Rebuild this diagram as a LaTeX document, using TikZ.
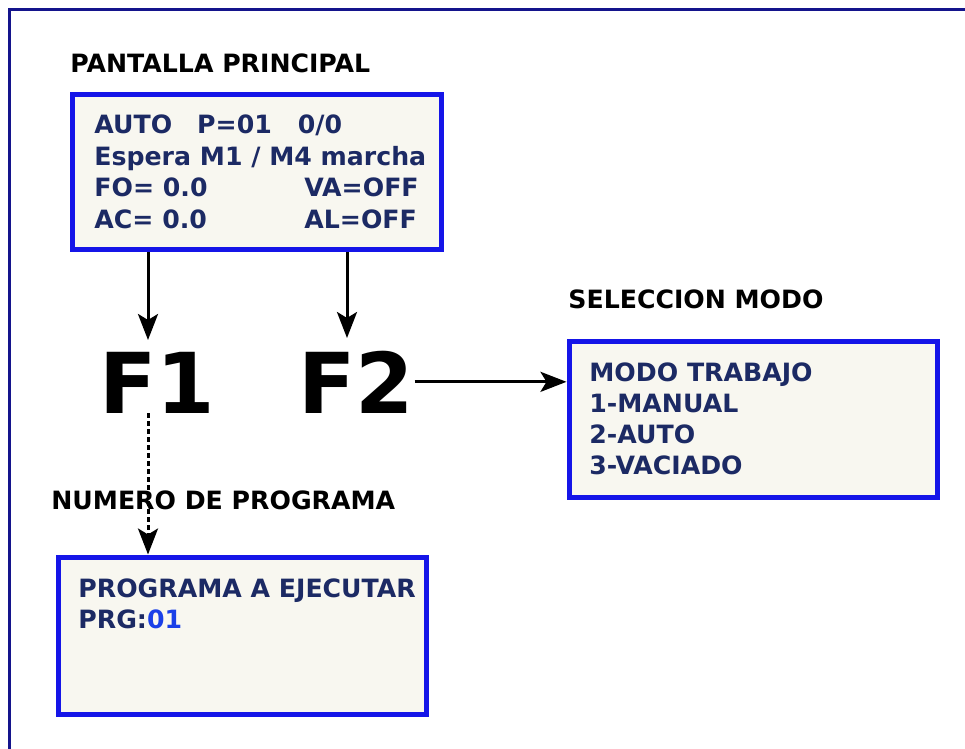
\documentclass[tikz,border=0pt]{standalone}
\usepackage{fontspec}
\setmainfont{DejaVu Sans}
\usepackage{tikz}
\usetikzlibrary{arrows.meta}
\definecolor{pageframe}{HTML}{14148C}
\definecolor{lcdframe}{HTML}{1515E8}
\definecolor{lcdback}{HTML}{F8F7F0}
\definecolor{lcdtext}{HTML}{1C2A64}
\definecolor{lcdvalue}{HTML}{1A40E8}

\begin{document}
\begin{tikzpicture}[x=0.5pt,y=-0.5pt,
  screen/.style={draw=lcdframe, fill=lcdback, line width=2.5pt, inner sep=0pt},
  lcd/.style={anchor=base west, inner sep=0pt, text=lcdtext, font=\bfseries\fontsize{12.6}{14}\selectfont},
  title/.style={anchor=base west, inner sep=0pt, font=\bfseries\fontsize{12.6}{14}\selectfont},
  fkey/.style={anchor=base west, inner sep=0pt, font=\bfseries\fontsize{42}{48}\selectfont},
  arr/.style={-{Stealth[length=13pt,width=10pt,inset=3pt]}, line width=1.5pt}]
\useasboundingbox (0,0) rectangle (965,749);
%frame
\draw[pageframe, line width=1.5pt] (9,749) -- (9,10) -- (965,10);
%screens
\node[screen, minimum width=184.25pt, minimum height=77.75pt] (main) at (256.75,172.25) {};
\node[screen, minimum width=184pt, minimum height=78pt] (modo) at (753,419) {};
\node[screen, minimum width=184pt, minimum height=78.5pt] (prog) at (242,635.5) {};
%titles
\node[title] (tmain) at (70,73) {PANTALLA PRINCIPAL};
\node[title] (tmodo) at (568,308) {SELECCION MODO};
\node[title] (tprog) at (51,509) {NUMERO DE PROGRAMA};
%keys
\node[fkey] (f1) at (99,413) {F1};
\node[fkey] (f2) at (298,413) {F2};
\coordinate (k1) at (148,340);
\coordinate (k2) at (347,338);
%arrows
\draw[arr] (main.south -| k1) -- (k1);
\draw[arr] (main.south -| k2) -- (k2);
\draw[arr] (f2.east) -- (f2.east -| modo.west);
\draw[arr, dash pattern=on 2.5pt off 1.5pt] (k1 |- f1.south) -- (k1 |- prog.north);
%main screen text
\node[lcd] (m1) at (94,134) {AUTO\hspace{12.5pt}P=01\hspace{13pt}0/0};
\node[lcd] (m2) at (94,166) {Espera M1 / M4 marcha};
\node[lcd] (m3) at (94,197) {\makebox[105pt][l]{FO= 0.0}VA=OFF};
\node[lcd] (m4) at (94,228) {\makebox[105pt][l]{AC= 0.0}AL=OFF};
%mode screen text
\node[lcd] (s1) at (589,381) {MODO TRABAJO};
\node[lcd] (s2) at (589,412) {1-MANUAL};
\node[lcd] (s3) at (589,443) {2-AUTO};
\node[lcd] (s4) at (589,474) {3-VACIADO};
%program screen text
\node[lcd] (p1) at (78,597) {PROGRAMA A EJECUTAR};
\node[lcd] (p2) at (78,628) {PRG:\textcolor{lcdvalue}{01}};
\end{tikzpicture}
\end{document}
